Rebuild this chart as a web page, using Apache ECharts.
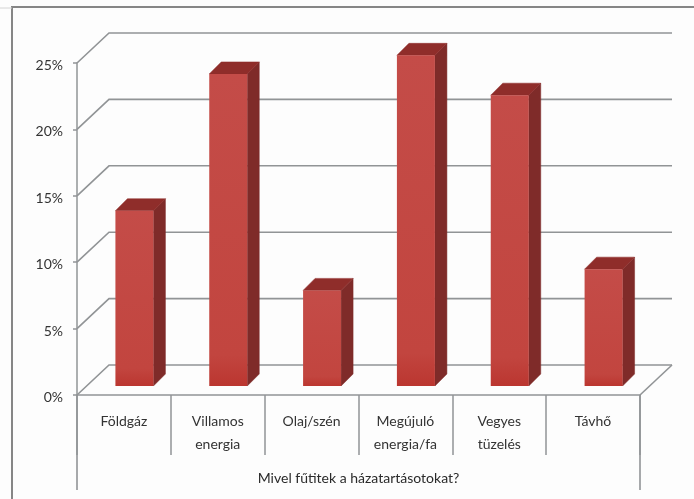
<!DOCTYPE html>
<html><head><meta charset="utf-8">
<style>html,body{margin:0;padding:0;background:#fff}#c{width:694px;height:499px}</style>
<script src="https://cdn.jsdelivr.net/npm/echarts@6/dist/echarts.min.js"></script>
</head><body><div id="c"></div>
<script>
const categories = ['Földgáz','Villamos\nenergia','Olaj/szén','Megújuló\nenergia/fa','Vegyes\ntüzelés','Távhő'];
const shareValues = [13.2,23.5,7.2,24.9,21.9,8.8];
const tickValues = [0,5,10,15,20,25];
const axisTitle = 'Mivel fűtitek a házatartásotokat?';

const WALL_DX = 32, WALL_DY = -30, BAR_DX = 12, BAR_DY = -12, BAR_LIFT = 9, BAR_W = 38, BAR_SHIFT = 10.5;
const LINE = '#919496';
const chart = echarts.init(document.getElementById('c'), null, {renderer:'canvas'});

function poly(points, fill){ return {type:'polygon', shape:{points}, style:{fill, stroke:fill, lineWidth:0.5}}; }

chart.setOption({
  animation:false,
  backgroundColor:'#fdfdfd',
  grid:{left:77,right:54,top:63,bottom:104,containLabel:false},
  graphic:[{type:'polyline',silent:true,z:0,shape:{points:[[12,499],[12,7],[694,7]]},style:{stroke:'#868686',lineWidth:2,fill:null}},
           {type:'line',silent:true,z:0,shape:{x1:0,y1:8,x2:12,y2:8},style:{stroke:'#d4d4d4',lineWidth:1}}],
  xAxis:{type:'category',data:categories,
    axisLine:{show:true,lineStyle:{color:LINE,width:1.5}},
    axisTick:{show:true,length:60,lineStyle:{color:LINE,width:1.5}},
    axisLabel:{color:'#333333',fontFamily:'Lato',fontSize:14,lineHeight:23,margin:15,interval:0,verticalAlign:'top'},
    name:axisTitle,nameLocation:'middle',nameGap:76,
    nameTextStyle:{color:'#2a2a2a',fontFamily:'Lato',fontSize:14}},
  yAxis:{type:'value',min:0,max:25,interval:5,
    axisLine:{show:true,lineStyle:{color:LINE,width:1.5}},
    axisTick:{show:true,length:4,lineStyle:{color:LINE,width:1.5}},
    splitLine:{show:false},
    axisLabel:{color:'#333333',fontFamily:'Lato',fontSize:14,margin:14,verticalAlign:'top',lineHeight:5,formatter:'{value}%'}},
  series:[
    {type:'custom',z:1,silent:true,clip:false,
     data:tickValues.map(v=>[0,v]),
     renderItem(params,api){
       const v=api.value(1), a=api.coord([0,v]), cs=params.coordSys;
       const L=cs.x, R=cs.x+cs.width, y=a[1];
       const st={stroke:LINE,lineWidth:1.6,fill:null};
       const children=[{type:'polyline',shape:{points:[[L,y],[L+WALL_DX,y+WALL_DY],[R+WALL_DX,y+WALL_DY]]},style:st}];
       if(v===0){
         children.push({type:'polyline',shape:{points:[[R,y],[R+WALL_DX,y+WALL_DY]]},style:st});
         children.push({type:'line',shape:{x1:L,y1:y,x2:L,y2:y+95},style:st});
         children.push({type:'line',shape:{x1:R,y1:y,x2:R,y2:y+95},style:st});
       }
       return {type:'group',children};
     }},
    {type:'custom',z:3,silent:true,clip:false,
     data:shareValues.map((v,i)=>[i,v]),
     renderItem(params,api){
       const t=api.coord([api.value(0),api.value(1)]), b=api.coord([api.value(0),0]);
       const x0=t[0]+BAR_SHIFT-BAR_W/2, x1=x0+BAR_W;
       const top=t[1]-BAR_LIFT, bot=b[1]-BAR_LIFT;
       return {type:'group',children:[
         poly([[x1,top],[x1+BAR_DX,top+BAR_DY],[x1+BAR_DX,bot+BAR_DY],[x1,bot]],'#7f2b29'),
         poly([[x0,top],[x0+BAR_DX,top+BAR_DY],[x1+BAR_DX,top+BAR_DY],[x1,top]],'#8f2d2a'),
         {type:'polygon',shape:{points:[[x0,top],[x1,top],[x1,bot],[x0,bot]]},
          style:{fill:new echarts.graphic.LinearGradient(0,0,0,1,[{offset:0,color:'#c44c48'},{offset:.9,color:'#c2453f'},{offset:1,color:'#bb3630'}])}}
       ]};
     }}
  ]
});
</script></body></html>
